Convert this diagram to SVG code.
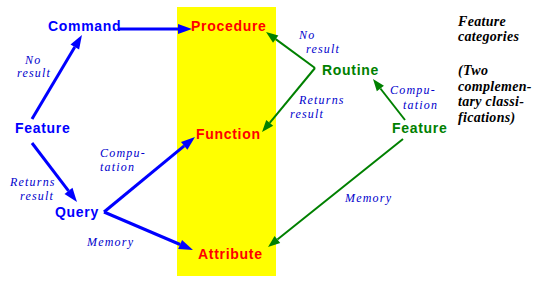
<svg xmlns="http://www.w3.org/2000/svg" width="558" height="294" viewBox="0 0 558 294">
<defs>
<style>
.node{font-family:"Liberation Sans",Arial,sans-serif;font-weight:bold;font-size:14px;letter-spacing:0.7px}
.blue{fill:#0000ff}
.red{fill:#ff0000}
.green{fill:#008000}
.lbl{font-family:"Liberation Serif","Times New Roman",serif;font-style:italic;font-size:12px;letter-spacing:1.2px;fill:#0000cc}
.note{font-family:"Liberation Serif","Times New Roman",serif;font-style:italic;font-weight:bold;font-size:14px;letter-spacing:0.3px;fill:#000000}
.bl{stroke:#0000ff;stroke-width:3;fill:none;marker-end:url(#ab)}
.gr{stroke:#008000;stroke-width:2;fill:none;marker-end:url(#ag)}
</style>
<marker id="ab" markerUnits="userSpaceOnUse" markerWidth="14" markerHeight="10" refX="0" refY="5" orient="auto" overflow="visible"><path d="M0,0 L14,5 L0,10 z" fill="#0000ff"/></marker>
<marker id="ag" markerUnits="userSpaceOnUse" markerWidth="12" markerHeight="9" refX="0" refY="4.5" orient="auto" overflow="visible"><path d="M0,0 L12,4.5 L0,9 z" fill="#008000"/></marker>
</defs>
<rect x="177" y="7" width="99" height="269" fill="#ffff00"/>
<g id="connectors">
<line class="bl" x1="32" y1="119" x2="74.8" y2="47"/>
<line class="bl" x1="118" y1="29" x2="178" y2="29"/>
<line class="bl" x1="32" y1="143" x2="68.5" y2="190.9"/>
<line class="bl" x1="104" y1="212" x2="184.2" y2="145.9"/>
<line class="bl" x1="104" y1="212" x2="180.1" y2="244.5"/>
<line class="gr" x1="315" y1="68" x2="275.7" y2="39.1"/>
<line class="gr" x1="315" y1="68" x2="269.7" y2="122.8"/>
<line class="gr" x1="405" y1="120" x2="380.4" y2="88.5"/>
<line class="gr" x1="403" y1="139" x2="277.4" y2="239.5"/>
</g>
<g id="labels">
<text class="lbl"><tspan x="25" y="63.5">No</tspan><tspan x="17" y="77">result</tspan></text>
<text class="lbl"><tspan x="10" y="186">Returns</tspan><tspan x="20" y="199.5">result</tspan></text>
<text class="lbl"><tspan x="100" y="157">Compu-</tspan><tspan x="100" y="170.5">tation</tspan></text>
<text class="lbl" x="87" y="246">Memory</text>
<text class="lbl"><tspan x="299" y="39">No</tspan><tspan x="306" y="52.5">result</tspan></text>
<text class="lbl"><tspan x="299" y="104">Returns</tspan><tspan x="290" y="117.5">result</tspan></text>
<text class="lbl"><tspan x="390" y="94">Compu-</tspan><tspan x="403" y="109">tation</tspan></text>
<text class="lbl" x="345" y="202">Memory</text>
</g>
<g id="command"><text class="node blue" x="48" y="31">Command</text></g>
<g id="feature-left"><text class="node blue" x="15" y="133">Feature</text></g>
<g id="query"><text class="node blue" x="55" y="217">Query</text></g>
<g id="procedure"><text class="node red" x="191" y="31">Procedure</text></g>
<g id="function"><text class="node red" x="196" y="139">Function</text></g>
<g id="attribute"><text class="node red" x="198" y="259">Attribute</text></g>
<g id="routine"><text class="node green" x="322" y="75">Routine</text></g>
<g id="feature-right"><text class="node green" x="392" y="133">Feature</text></g>
<g id="note">
<text class="note"><tspan x="458" y="26">Feature</tspan><tspan x="458" y="41">categories</tspan></text>
<text class="note"><tspan x="458" y="75">(Two</tspan><tspan x="458" y="91">complemen-</tspan><tspan x="458" y="106">tary classi-</tspan><tspan x="458" y="122">fications)</tspan></text>
</g>
</svg>
